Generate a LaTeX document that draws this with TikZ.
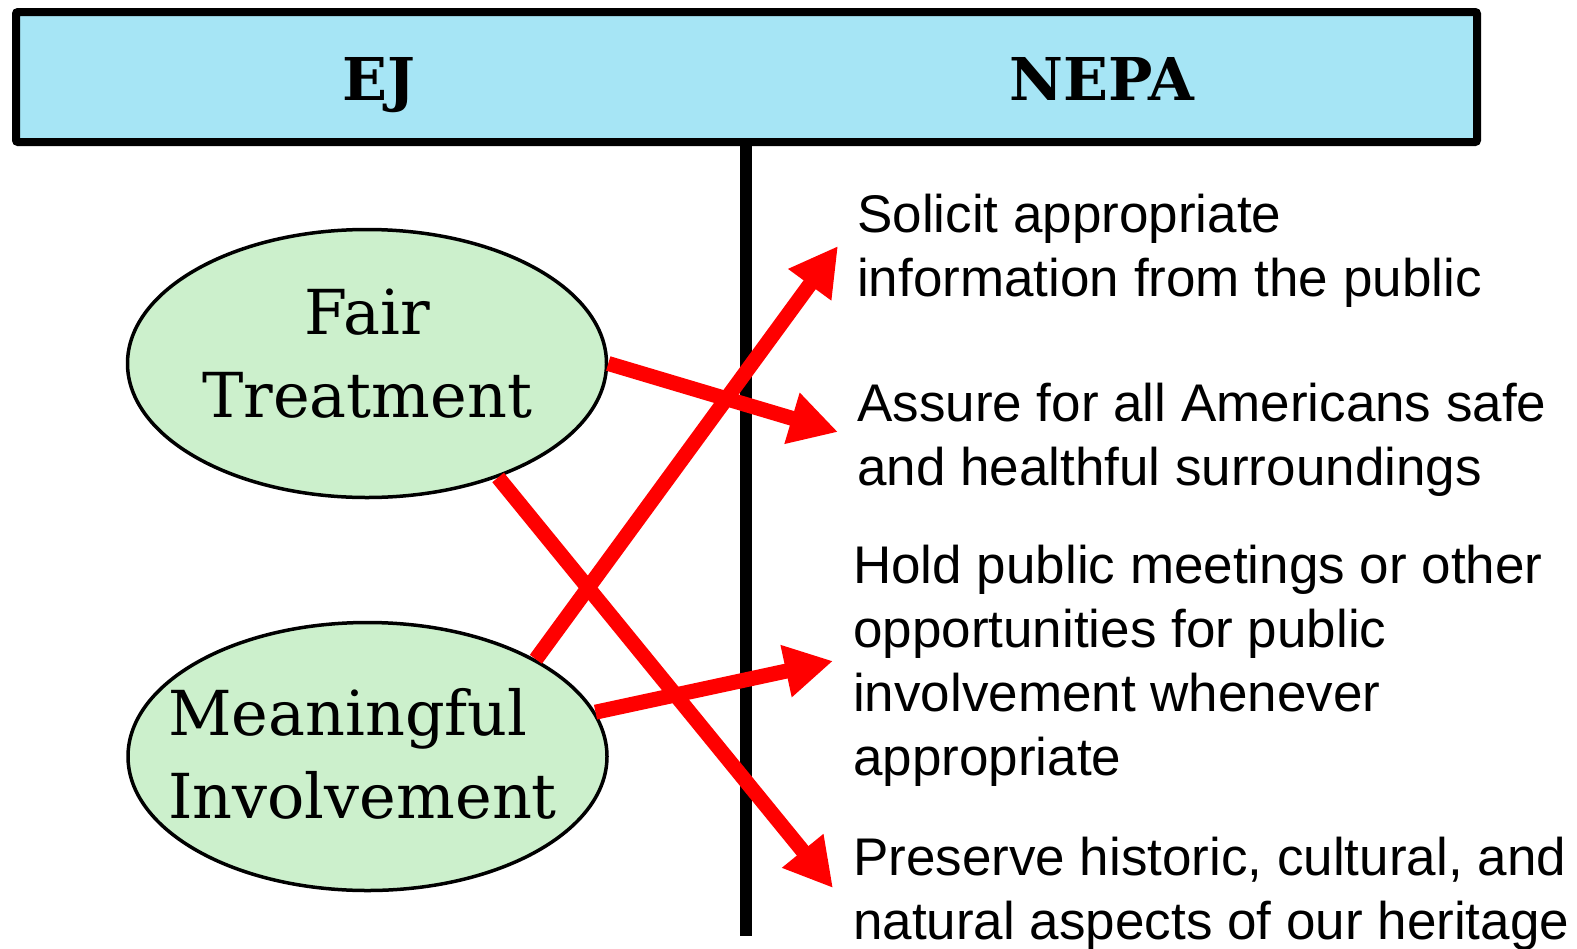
\documentclass[tikz,border=0pt]{standalone}
\usepackage{fontspec}
\setmainfont{Liberation Sans}
\newfontfamily\slab{DejaVu Serif}
\usetikzlibrary{arrows.meta,shapes.geometric}
\definecolor{hdrblue}{RGB}{166,229,245}
\definecolor{ovalgreen}{RGB}{204,240,204}
\begin{document}
\begin{tikzpicture}[x=1pt,y=-1pt,
  hdr/.style={draw=black,line width=8pt,fill=hdrblue,inner sep=0pt,anchor=north west,rounded corners=2pt},
  oval/.style={ellipse,draw=black,line width=3.5pt,fill=ovalgreen,minimum width=479pt,minimum height=268pt,inner sep=0pt},
  ovaltext/.style={font=\slab\fontsize{62}{83}\selectfont,inner sep=0pt},
  hdrtext/.style={font=\slab\bfseries\fontsize{59}{60}\selectfont,inner sep=0pt,anchor=base},
  item/.style={font=\fontsize{53}{64}\selectfont,align=left,inner sep=0pt,anchor=base west},
  divider/.style={draw=black,line width=12pt},
  link/.style={draw=red,line width=15pt,-{Triangle[length=48pt,width=50pt]}}]
\useasboundingbox (0,0) rectangle (1577,948);
% header
\node[hdr,minimum width=1461pt,minimum height=130pt] (hdr) at (12,8) {};
\node[hdrtext] (ej) at (379,100) {EJ};
\node[hdrtext] (nepa) at (1102,100) {NEPA};
% divider
\coordinate (vtop) at (746,138);
\coordinate (vbot) at (746,936);
\draw[divider] (vtop) -- (vbot);
% ovals
\node[oval] (ft) at (367,363.5) {};
\node[oval] (mi) at (367.5,756.5) {};
\node[ovaltext,align=center,anchor=base] (ftt) at (367,417) {Fair\\Treatment};
\node[ovaltext,align=left,anchor=base west] (mit) at (168,818) {Meaningful\\Involvement};
% items (base anchor = last line)
\node[item] (i1) at (857,296) {Solicit appropriate\\information from the public};
\node[item] (i2) at (857,485) {Assure for all Americans safe\\and healthful surroundings};
\node[item] (i3) at (853,775) {Hold public meetings or other\\opportunities for public\\involvement whenever\\appropriate};
\node[item] (i4) at (853,939) {Preserve historic, cultural, and\\natural aspects of our heritage};
% arrow tips
\coordinate (t1) at (838,246);
\coordinate (t2) at (838,432);
\coordinate (t3) at (833,661);
\coordinate (t4) at (833,888);
% links
\draw[link] (ft.east) -- (t2);
\draw[link] (ft.-41) -- (t4);
\draw[link] (mi.30.2) -- (t1);
\draw[link] (mi.11.65) -- (t3);
\end{tikzpicture}
\end{document}
